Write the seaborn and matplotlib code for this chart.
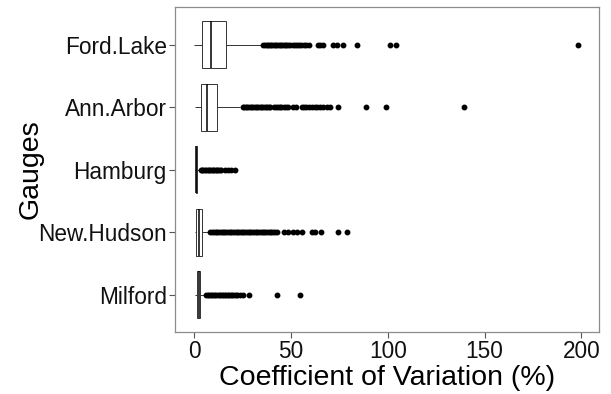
import matplotlib
matplotlib.use("Agg")
import matplotlib.pyplot as plt
import numpy as np
import pandas as pd
import seaborn as sns

# ---- data ----
gauges = ["Ford.Lake", "Ann.Arbor", "Hamburg", "New.Hudson", "Milford"]
whisker_low = [0.0, 0.4, 0.2, 0.1, 0.2]
q1 = [4.1, 3.5, 0.6, 1.0, 1.2]
median = [8.5, 6.4, 1.1, 2.4, 2.2]
q3 = [16.5, 11.9, 1.6, 3.8, 3.1]
whisker_high = [34.8, 23.6, 3.0, 7.8, 5.5]

outliers_ford_lake = [35.6, 36.4, 37.3, 38.1, 39.0, 39.8, 40.7, 41.5, 42.4, 43.2,
                      44.1, 44.9, 45.8, 46.6, 47.5, 48.3, 49.2, 51.0, 52.0, 53.2,
                      54.3, 55.1, 56.5, 57.8, 59.0, 63.9, 65.0, 66.5, 71.8, 73.5,
                      76.8, 84.2, 101.2, 104.0, 198.5]
outliers_ann_arbor = [24.9, 25.7, 26.6, 27.4, 28.3, 29.1, 30.0, 30.8, 31.7, 32.5,
                      33.4, 34.2, 35.1, 35.9, 36.8, 37.6, 38.5, 39.3, 41.0, 42.0,
                      43.1, 44.2, 45.0, 46.3, 47.4, 48.5, 51.2, 52.5, 55.4, 56.6,
                      57.8, 59.0, 60.8, 62.3, 63.6, 64.8, 66.6, 68.3, 70.0, 74.4,
                      88.6, 98.8, 139.4]
outliers_hamburg = [3.3, 4.0, 4.7, 5.4, 6.1, 6.8, 7.5, 8.2, 8.9, 9.6, 10.3, 11.0,
                    11.7, 12.4, 13.2, 14.0, 15.8, 17.5, 19.2, 20.9]
outliers_new_hudson = [8.3, 9.2, 10.1, 11.0, 11.9, 12.8, 13.7, 14.6, 15.5, 16.4,
                       17.3, 18.2, 19.1, 20.0, 20.9, 21.8, 22.7, 23.6, 24.5, 25.4,
                       26.3, 27.2, 28.1, 29.0, 29.9, 30.8, 31.7, 32.6, 33.5, 34.4,
                       35.3, 36.2, 37.1, 38.0, 38.9, 39.8, 40.7, 41.6, 42.5, 46.4,
                       48.6, 50.8, 52.9, 55.5, 60.7, 62.4, 65.5, 74.4, 78.8]
outliers_milford = [6.1, 6.9, 7.7, 8.5, 9.3, 10.1, 10.9, 11.7, 12.5, 13.3, 14.1,
                    14.9, 15.7, 16.5, 17.3, 18.1, 18.9, 19.7, 20.5, 21.3, 22.0,
                    23.6, 25.3, 28.4, 42.6, 54.6]
outliers = [outliers_ford_lake, outliers_ann_arbor, outliers_hamburg,
            outliers_new_hudson, outliers_milford]

x_ticks = [0, 50, 100, 150, 200]

# Build a sample per gauge whose quartiles/whiskers equal the values read above
rows = []
for g, wl, a, md, b, wh, out in zip(gauges, whisker_low, q1, median, q3,
                                     whisker_high, outliers):
    n = 2 * (len(out) + 2)
    vals = [wl] + [a] * n + [md] * n + [b] * n + [wh] + list(out)
    rows += [(g, v) for v in vals]
df = pd.DataFrame(rows, columns=["gauge", "cv"])

# ---- plot ----
sns.set_theme(style="white")
plt.rcParams["font.family"] = ["Liberation Sans", "DejaVu Sans"]

fig = plt.figure(figsize=(6.11, 3.94), dpi=100)
ax = fig.add_axes([0.2864, 0.157, 0.6936, 0.825])

sns.boxplot(data=df, x="cv", y="gauge", order=gauges, orient="h", ax=ax,
            width=0.75, color="white", linecolor="#333333", linewidth=0.7,
            showcaps=False, fliersize=3.2,
            flierprops=dict(marker="o", markerfacecolor="black",
                            markeredgecolor="black", markersize=3.2),
            medianprops=dict(color="black", linewidth=1.1))

ax.set_xlim(-10, 209)
ax.set_ylim(4.6, -0.6)
ax.set_xticks(x_ticks)
ax.set_xticklabels([str(t) for t in x_ticks])
ax.set_xlabel("Coefficient of Variation (%)", fontsize=20.5, color="black", labelpad=1)
ax.set_ylabel("Gauges", fontsize=20.5, color="black", labelpad=-4)
ax.tick_params(axis="both", which="both", length=4, width=0.8, color="#555555",
               labelsize=16.3, labelcolor="#111111", pad=2, left=True, bottom=True)
for s in ax.spines.values():
    s.set_visible(True)
    s.set_color("#8c8c8c")
    s.set_linewidth(0.9)
ax.grid(False)

fig.savefig("out.png", dpi=100, facecolor="white")
